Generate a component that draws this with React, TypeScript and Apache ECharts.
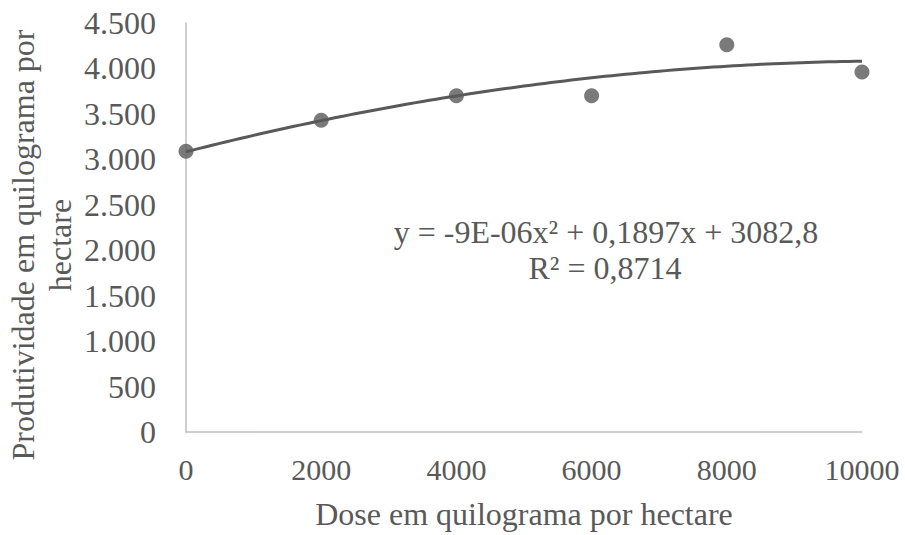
import React, { useEffect, useRef } from "react";
import * as echarts from "echarts";

const doses = [0, 2000, 4000, 6000, 8000, 10000];
const yields = [3090, 3430, 3700, 3700, 4260, 3960];
// trend line coefficients shown on the chart: y = a x^2 + b x + c
const trendCoef = [-9e-6, 0.1897, 3082.8];
const equationText = "y = -9E-06x² + 0,1897x + 3082,8";
const r2Text = "R² = 0,8714";
const xTitle = "Dose em quilograma por hectare";
const yTitle = "Produtividade em quilograma por\nhectare";

const FONT = "'Liberation Serif', 'Times New Roman', serif";
const GREY = "#595959";
const FS = 32;

function fmtY(v: number): string {
  if (v >= 1000) {
    const th = Math.floor(v / 1000);
    const rest = String(v % 1000).padStart(3, "0");
    return `${th}.${rest}`;
  }
  return String(v);
}

export default function App() {
  const ref = useRef<HTMLDivElement>(null);
  useEffect(() => {
    if (!ref.current) return;
    const chart = echarts.init(ref.current, undefined, { renderer: "svg" });
    const trend: number[][] = [];
    for (let x = doses[0]; x <= doses[doses.length - 1]; x += 100) {
      trend.push([x, trendCoef[0] * x * x + trendCoef[1] * x + trendCoef[2]]);
    }
    chart.setOption({
      animation: false,
      backgroundColor: "#ffffff",
      grid: { left: 186, right: 43, top: 23, bottom: 100, containLabel: false },
      xAxis: {
        type: "value",
        min: 0,
        max: 10000,
        interval: 2000,
        axisLine: { show: true, lineStyle: { color: "#bfbfbf", width: 1.5 } },
        axisTick: { show: false },
        splitLine: { show: false },
        axisLabel: {
          color: GREY,
          fontFamily: FONT,
          fontSize: 30,
          margin: 22,
          formatter: (v: number) => String(v),
        },
        name: xTitle,
        nameLocation: "middle",
        nameGap: 66,
        nameTextStyle: { color: GREY, fontFamily: FONT, fontSize: FS },
      },
      yAxis: {
        type: "value",
        min: 0,
        max: 4500,
        interval: 500,
        axisLine: { show: true, lineStyle: { color: "#bfbfbf", width: 1.5 } },
        axisTick: { show: false },
        splitLine: { show: false },
        axisLabel: {
          color: GREY,
          fontFamily: FONT,
          fontSize: FS,
          margin: 30,
          formatter: (v: number) => fmtY(v),
        },
      },
      graphic: [
        {
          type: "text",
          x: 41,
          y: 245,
          rotation: Math.PI / 2,
          style: {
            text: yTitle,
            fill: GREY,
            font: `${FS}px ${FONT}`,
            align: "center",
            verticalAlign: "middle",
            lineHeight: 37,
          },
        },
        {
          type: "text",
          x: 606,
          y: 232,
          style: {
            text: equationText,
            fill: GREY,
            font: `${FS}px ${FONT}`,
            align: "center",
            verticalAlign: "middle",
          },
        },
        {
          type: "text",
          x: 605,
          y: 268,
          style: {
            text: r2Text,
            fill: GREY,
            font: `${FS}px ${FONT}`,
            align: "center",
            verticalAlign: "middle",
          },
        },
      ],
      series: [
        {
          type: "line",
          data: trend,
          showSymbol: false,
          lineStyle: { color: GREY, width: 3 },
          z: 2,
        },
        {
          type: "scatter",
          data: doses.map((d, i) => [d, yields[i]]),
          symbol: "circle",
          symbolSize: 15,
          itemStyle: { color: GREY },
          z: 3,
        },
      ],
    });
    return () => chart.dispose();
  }, []);
  return (
    <div
      ref={ref}
      style={{ position: "fixed", left: 0, top: 0, width: 905, height: 535, overflow: "visible" }}
    />
  );
}
